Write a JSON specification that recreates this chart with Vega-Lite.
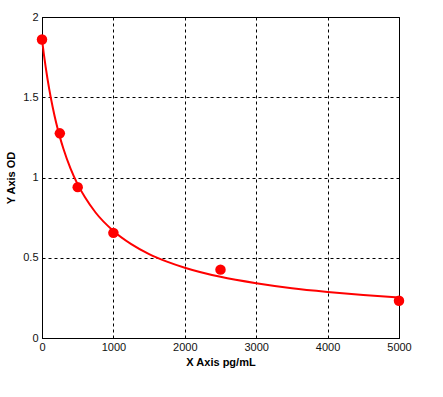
{
  "$schema": "https://vega.github.io/schema/vega-lite/v6.json",
  "width": 357,
  "height": 321,
  "autosize": {"type": "none"},
  "padding": {"left": 42, "top": 17, "right": 44, "bottom": 59},
  "background": "white",
  "config": {
    "view": {"stroke": "black", "strokeWidth": 1},
    "font": "Liberation Sans",
    "axis": {
      "domainColor": "black",
      "gridColor": "black",
      "gridDash": [3, 3],
      "gridOpacity": 1,
      "gridWidth": 1,
      "ticks": false,
      "labelFont": "Liberation Sans",
      "labelFontSize": 11,
      "labelColor": "#111",
      "titleFont": "Liberation Sans",
      "titleFontSize": 11,
      "titleFontWeight": "bold",
      "titleColor": "black"
    }
  },
  "datasets": {
    "pts": [
      {"x": 0, "y": 1.86},
      {"x": 250, "y": 1.275},
      {"x": 500, "y": 0.94},
      {"x": 1000, "y": 0.655},
      {"x": 2500, "y": 0.426},
      {"x": 5000, "y": 0.232}
    ],
    "curve": [
      {"x": 0, "y": 1.86},
      {"x": 25, "y": 1.772},
      {"x": 50, "y": 1.692},
      {"x": 75, "y": 1.62},
      {"x": 100, "y": 1.554},
      {"x": 150, "y": 1.438},
      {"x": 200, "y": 1.338},
      {"x": 250, "y": 1.253},
      {"x": 300, "y": 1.179},
      {"x": 400, "y": 1.055},
      {"x": 500, "y": 0.957},
      {"x": 600, "y": 0.878},
      {"x": 750, "y": 0.782},
      {"x": 1000, "y": 0.667},
      {"x": 1250, "y": 0.585},
      {"x": 1500, "y": 0.523},
      {"x": 1750, "y": 0.476},
      {"x": 2000, "y": 0.438},
      {"x": 2500, "y": 0.381},
      {"x": 3000, "y": 0.341},
      {"x": 3500, "y": 0.31},
      {"x": 4000, "y": 0.287},
      {"x": 4500, "y": 0.268},
      {"x": 5000, "y": 0.253}
    ]
  },
  "layer": [
    {
      "data": {"name": "curve"},
      "mark": {"type": "line", "color": "#ff0000", "strokeWidth": 2, "interpolate": "monotone"},
      "encoding": {
        "x": {"field": "x", "type": "quantitative", "scale": {"domain": [0, 5000], "nice": false, "zero": false},
          "axis": {"title": "X Axis pg/mL", "values": [0, 1000, 2000, 3000, 4000, 5000], "format": "d", "grid": true, "labelPadding": 3, "titlePadding": 4, "labelFlush": false}},
        "y": {"field": "y", "type": "quantitative", "scale": {"domain": [0, 2], "nice": false, "zero": false},
          "axis": {"title": "Y Axis OD", "values": [0, 0.5, 1, 1.5, 2], "format": "~g", "grid": true, "labelPadding": 4, "titlePadding": 6, "labelFlush": false}}
      }
    },
    {
      "data": {"name": "pts"},
      "mark": {"type": "point", "filled": true, "color": "#ff0000", "opacity": 1, "size": 110},
      "encoding": {
        "x": {"field": "x", "type": "quantitative"},
        "y": {"field": "y", "type": "quantitative"}
      }
    }
  ]
}
